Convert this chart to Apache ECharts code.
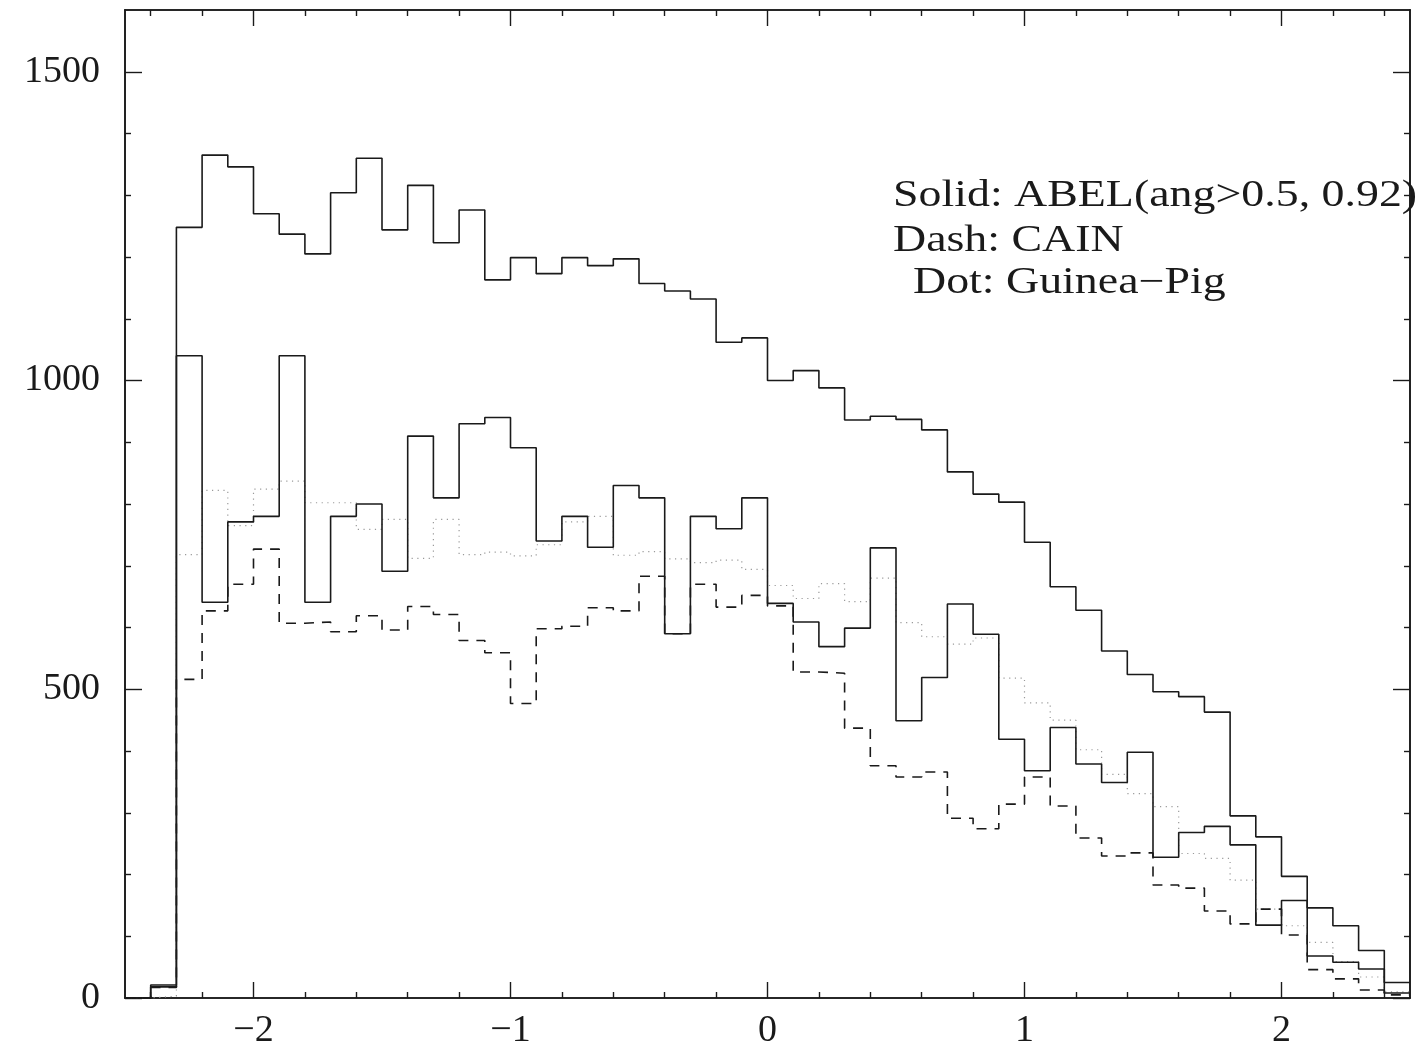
<!DOCTYPE html>
<html>
<head>
<meta charset="utf-8">
<title>Histogram comparison: ABEL / CAIN / Guinea-Pig</title>
<script src="https://cdn.jsdelivr.net/npm/echarts@6/dist/echarts.min.js"></script>
<style>
  html, body { margin: 0; padding: 0; background: #fff; }
  #chart { width: 1424px; height: 1055px; }
</style>
</head>
<body>
<div id="chart"></div>
<script>
// Left edges of the 0.1-wide bins; the last bin closes at histRight.
const binLeft = [
  -2.5, -2.4, -2.3, -2.2, -2.1, -2.0, -1.9, -1.8, -1.7, -1.6,
  -1.5, -1.4, -1.3, -1.2, -1.1, -1.0, -0.9, -0.8, -0.7, -0.6,
  -0.5, -0.4, -0.3, -0.2, -0.1, 0.0, 0.1, 0.2, 0.3, 0.4,
  0.5, 0.6, 0.7, 0.8, 0.9, 1.0, 1.1, 1.2, 1.3, 1.4,
  1.5, 1.6, 1.7, 1.8, 1.9, 2.0, 2.1, 2.2, 2.3, 2.4
];
const histRight = 2.5;

// Solid, upper histogram
const abelAll = [
  0, 21, 1248, 1365, 1346, 1270, 1237, 1205, 1304, 1360,
  1244, 1316, 1223, 1276, 1163, 1199, 1173, 1199, 1186, 1197,
  1157, 1145, 1132, 1062, 1069, 1000, 1016, 988, 936, 942,
  937, 920, 852, 816, 803, 738, 666, 628, 562, 524,
  496, 488, 463, 295, 261, 197, 146, 117, 77, 25
];

// Solid, lower histogram
const abelCut = [
  0, 18, 1040, 641, 771, 780, 1040, 641, 780, 800,
  691, 910, 810, 930, 940, 891, 740, 780, 730, 830,
  810, 590, 780, 760, 810, 639, 609, 569, 599, 729,
  449, 519, 638, 589, 419, 368, 438, 379, 349, 398,
  228, 268, 278, 248, 118, 158, 68, 58, 47, 8
];

// Dashed histogram
const cain = [
  0, 17, 516, 627, 670, 727, 607, 609, 593, 619,
  596, 634, 621, 579, 559, 477, 598, 602, 632, 627,
  683, 590, 670, 633, 652, 635, 528, 526, 437, 376,
  358, 366, 291, 274, 314, 358, 311, 259, 230, 235,
  183, 178, 141, 120, 144, 102, 46, 31, 13, 5
];

// Dotted histogram
const guineaPig = [
  0, 3, 718, 822, 765, 824, 837, 802, 802, 759,
  775, 712, 775, 718, 722, 716, 734, 771, 780, 717,
  723, 711, 705, 709, 694, 668, 647, 671, 642, 680,
  608, 585, 573, 583, 518, 478, 450, 402, 362, 331,
  310, 234, 226, 191, 144, 117, 90, 59, 34, 10
];

// Axis ticks
const xMajorTicks = [-2, -1, 0, 1, 2];
const xMinorTicks = [-2.4, -2.2, -1.8, -1.6, -1.4, -1.2, -0.8, -0.6, -0.4, -0.2,
                     0.2, 0.4, 0.6, 0.8, 1.2, 1.4, 1.6, 1.8, 2.2, 2.4];
const yMajorTicks = [0, 500, 1000, 1500];
const yMinorTicks = [100, 200, 300, 400, 600, 700, 800, 900, 1100, 1200, 1300, 1400];

const legendLines = [
  'Solid: ABEL(ang>0.5, 0.92)',
  'Dash: CAIN',
  'Dot: Guinea\u2212Pig'
];

const INK = '#1a1a1a';
const SERIF = '"Liberation Serif", "DejaVu Serif", serif';

function stepData(values) {
  const d = binLeft.map((x, i) => [x, values[i]]);
  d.push([histRight, values[values.length - 1]]);
  return d;
}

function fmtX(v) {
  return v < 0 ? '\u2212' + Math.abs(v) : String(v);
}

function fmtY(v) {
  return String(v);
}

const frameLine = { show: true, onZero: false, lineStyle: { color: INK, width: 1.6 } };

function xAxisDef(position, ticks, len, labels) {
  return {
    type: 'value', position: position, min: -2.5, max: 2.5,
    axisLine: frameLine,
    splitLine: { show: false },
    axisTick: { show: true, inside: true, length: len, customValues: ticks,
                lineStyle: { color: INK, width: 1.4 } },
    axisLabel: labels ? {
      show: true, customValues: ticks, formatter: fmtX, margin: 14,
      fontFamily: SERIF, fontSize: 38, color: INK
    } : { show: false }
  };
}

function yAxisDef(position, ticks, len, labels) {
  return {
    type: 'value', position: position, min: 0, max: 1600,
    axisLine: frameLine,
    splitLine: { show: false },
    axisTick: { show: true, inside: true, length: len, customValues: ticks,
                lineStyle: { color: INK, width: 1.4 } },
    axisLabel: labels ? {
      show: true, customValues: ticks, formatter: fmtY, margin: 25,
      fontFamily: SERIF, fontSize: 38, color: INK
    } : { show: false }
  };
}

function histSeries(name, values, lineStyle, z) {
  return {
    name: name, type: 'line', step: 'end', data: stepData(values),
    xAxisIndex: 0, yAxisIndex: 0,
    symbol: 'none', silent: true, z: z,
    lineStyle: lineStyle
  };
}

const chart = echarts.init(document.getElementById('chart'), null, { renderer: 'canvas' });

chart.setOption({
  animation: false,
  backgroundColor: '#ffffff',
  grid: { left: 125, right: 14, top: 10, bottom: 57, containLabel: false },
  xAxis: [
    xAxisDef('bottom', xMajorTicks, 16, true),
    xAxisDef('bottom', xMinorTicks, 6, false),
    xAxisDef('top', xMajorTicks, 16, false),
    xAxisDef('top', xMinorTicks, 6, false)
  ],
  yAxis: [
    yAxisDef('left', yMajorTicks, 17, true),
    yAxisDef('left', yMinorTicks, 6, false),
    yAxisDef('right', yMajorTicks, 17, false),
    yAxisDef('right', yMinorTicks, 6, false)
  ],
  series: [
    histSeries('Guinea-Pig', guineaPig, { color: '#9a9a9a', width: 1.2, type: [1.2, 4.5] }, 1),
    histSeries('CAIN', cain, { color: INK, width: 1.6, type: [10, 8] }, 2),
    histSeries('ABEL cut', abelCut, { color: INK, width: 1.6, type: 'solid' }, 3),
    histSeries('ABEL', abelAll, { color: INK, width: 1.6, type: 'solid' }, 4)
  ],
  graphic: [
    { type: 'text', x: 893, y: 196, scaleX: 1.24, z: 10,
      style: { text: legendLines[0], font: '37px ' + SERIF, fill: INK, verticalAlign: 'middle', align: 'left' } },
    { type: 'text', x: 893, y: 241, scaleX: 1.24, z: 10,
      style: { text: legendLines[1], font: '37px ' + SERIF, fill: INK, verticalAlign: 'middle', align: 'left' } },
    { type: 'text', x: 913, y: 283, scaleX: 1.24, z: 10,
      style: { text: legendLines[2], font: '37px ' + SERIF, fill: INK, verticalAlign: 'middle', align: 'left' } }
  ]
});
</script>
</body>
</html>
